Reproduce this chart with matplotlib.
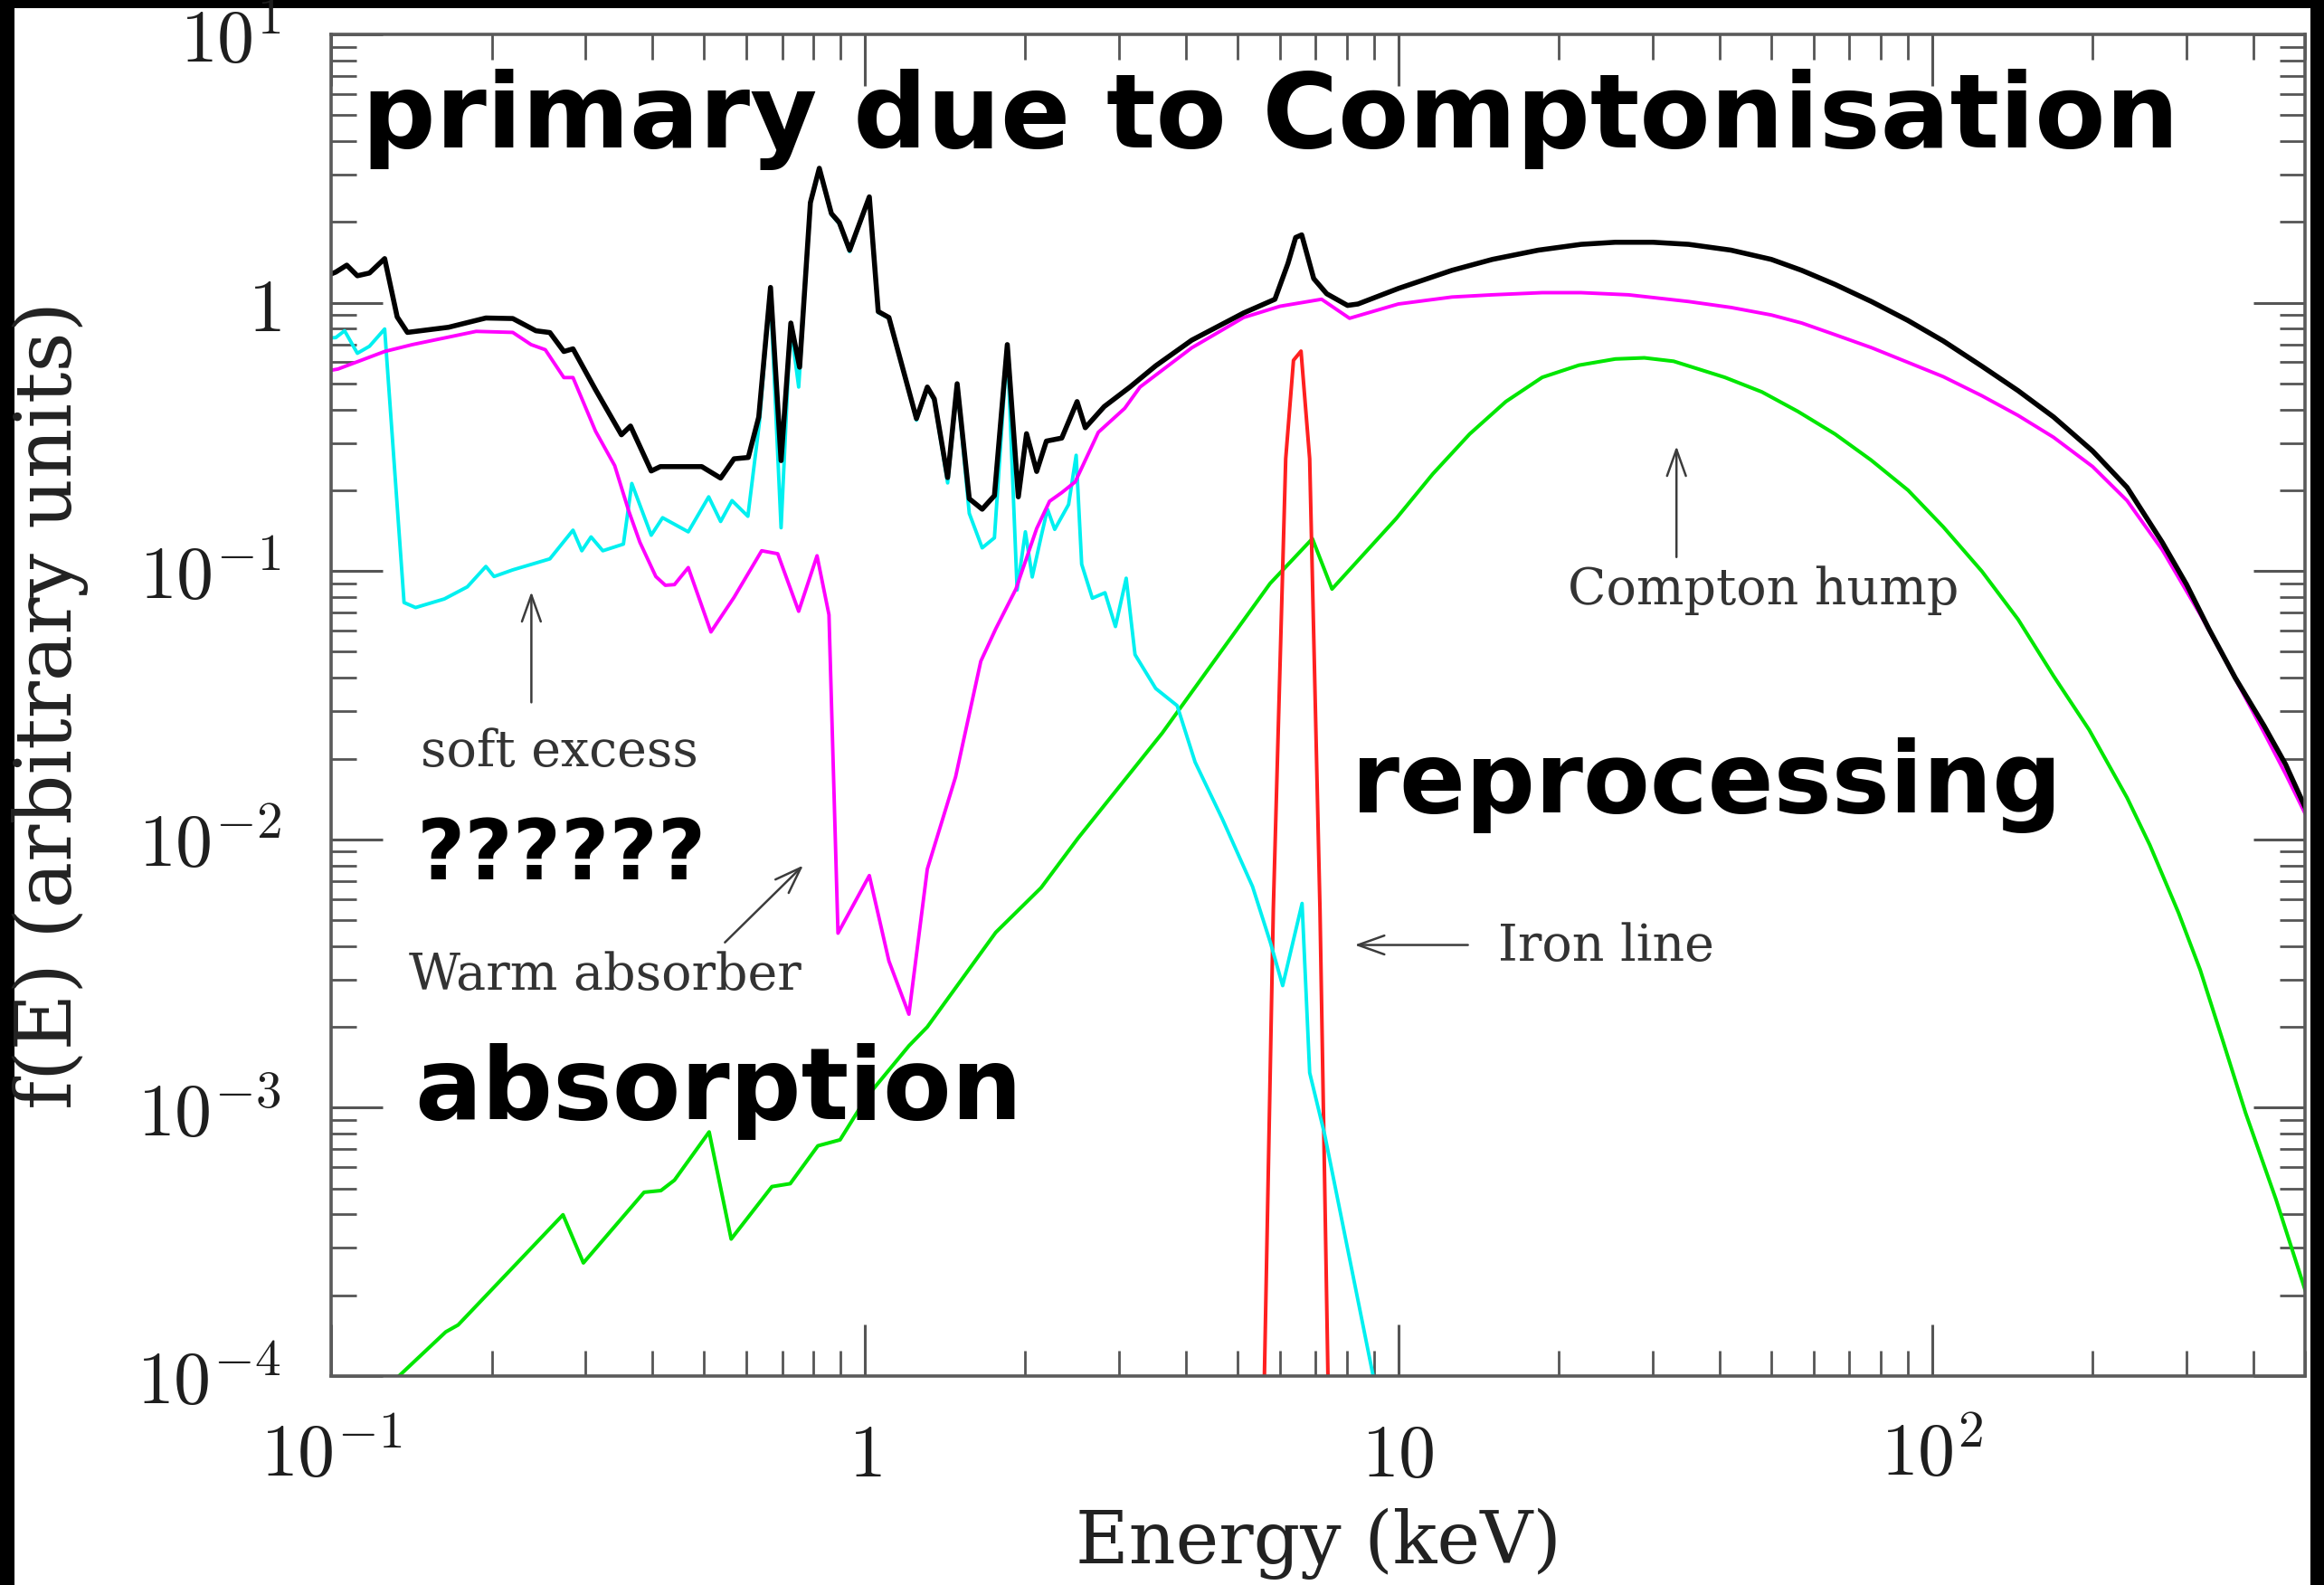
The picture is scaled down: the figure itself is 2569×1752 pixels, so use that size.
import matplotlib
matplotlib.use('Agg')
import matplotlib.pyplot as plt
from matplotlib.patches import Rectangle
from matplotlib.ticker import FixedLocator, LogLocator, NullFormatter

plt.rcParams['mathtext.fontset'] = 'cm'

# total spectrum (black)
total_e = [0.100, 0.102, 0.107, 0.112, 0.118, 0.126, 0.133, 0.139, 0.166, 0.195,
           0.219, 0.242, 0.257, 0.273, 0.284, 0.313, 0.350, 0.364, 0.398, 0.414,
           0.495, 0.537, 0.569, 0.605, 0.633, 0.666, 0.697, 0.727, 0.755, 0.791,
           0.822, 0.866, 0.896, 0.937, 1.02, 1.06, 1.11, 1.25, 1.31, 1.35,
           1.43, 1.49, 1.57, 1.66, 1.75, 1.85, 1.94, 2.01, 2.10, 2.19,
           2.34, 2.50, 2.59, 2.81, 3.14, 3.51, 4.10, 5.13, 5.87, 6.21,
           6.42, 6.59, 6.94, 7.34, 8.03, 8.40, 10.0, 12.6, 15.0, 18.3,
           22.0, 25.5, 30.0, 35.0, 42.0, 50.0, 57.0, 65.8, 77.0, 90.0,
           105.0, 124.0, 145.0, 169.0, 200.0, 232.0, 270.0, 300.0, 330.0, 370.0,
           419.0, 460.0, 500.0]
total_f = [1.28, 1.30, 1.38, 1.26, 1.29, 1.46, 0.885, 0.775, 0.81, 0.877,
           0.873, 0.786, 0.774, 0.658, 0.673, 0.474, 0.322, 0.347, 0.236, 0.245,
           0.245, 0.222, 0.262, 0.265, 0.375, 1.14, 0.258, 0.84, 0.575, 2.36,
           3.17, 2.15, 1.99, 1.57, 2.48, 0.927, 0.881, 0.370, 0.485, 0.438,
           0.223, 0.499, 0.186, 0.170, 0.191, 0.698, 0.189, 0.325, 0.235, 0.305,
           0.313, 0.428, 0.342, 0.410, 0.485, 0.582, 0.725, 0.916, 1.03, 1.40,
           1.75, 1.79, 1.23, 1.08, 0.977, 0.989, 1.13, 1.32, 1.45, 1.57,
           1.65, 1.68, 1.68, 1.65, 1.57, 1.45, 1.32, 1.17, 1.01, 0.86,
           0.72, 0.58, 0.47, 0.375, 0.28, 0.205, 0.128, 0.089, 0.061, 0.040,
           0.0265, 0.019, 0.0132]

# without soft excess (cyan)
cyan_e = [0.100, 0.102, 0.106, 0.112, 0.118, 0.126, 0.137, 0.144, 0.163, 0.180,
          0.195, 0.202, 0.219, 0.257, 0.284, 0.295, 0.307, 0.323, 0.353, 0.366,
          0.398, 0.418, 0.467, 0.510, 0.537, 0.564, 0.604, 0.635, 0.665, 0.697,
          0.726, 0.752, 0.791, 0.822, 0.866, 0.896, 0.937, 1.02, 1.06, 1.11,
          1.25, 1.31, 1.35, 1.43, 1.49, 1.57, 1.66, 1.75, 1.85, 1.93,
          2.00, 2.06, 2.14, 2.20, 2.27, 2.41, 2.49, 2.55, 2.67, 2.82,
          2.95, 3.09, 3.21, 3.51, 3.85, 4.16, 4.68, 5.33, 5.76, 6.07,
          6.60, 6.82, 7.28, 8.97, 9.40]
cyan_f = [0.74, 0.741, 0.786, 0.648, 0.688, 0.798, 0.0763, 0.0731, 0.0787, 0.0873,
          0.104, 0.0954, 0.101, 0.111, 0.142, 0.119, 0.134, 0.119, 0.126, 0.212,
          0.136, 0.158, 0.140, 0.189, 0.153, 0.183, 0.160, 0.36, 1.12, 0.145,
          0.83, 0.485, 2.34, 3.14, 2.13, 1.97, 1.55, 2.46, 0.92, 0.875,
          0.365, 0.48, 0.432, 0.213, 0.49, 0.164, 0.122, 0.133, 0.69, 0.085,
          0.14, 0.095, 0.134, 0.170, 0.143, 0.177, 0.27, 0.106, 0.0792, 0.0830,
          0.0621, 0.0940, 0.0488, 0.0365, 0.0315, 0.0194, 0.0119, 6.67e-3, 4.11e-3, 2.85e-3,
          5.77e-3, 1.35e-3, 7.9e-4, 1.0e-4, 6.0e-5]

# absorbed primary (magenta)
mag_e = [0.100, 0.103, 0.126, 0.142, 0.187, 0.219, 0.237, 0.252, 0.273, 0.284,
         0.313, 0.340, 0.361, 0.379, 0.406, 0.423, 0.440, 0.467, 0.515, 0.569,
         0.641, 0.687, 0.752, 0.814, 0.857, 0.891, 1.02, 1.11, 1.21, 1.31,
         1.48, 1.65, 1.76, 1.92, 2.10, 2.22, 2.34, 2.48, 2.74, 3.07,
         3.28, 4.10, 5.13, 6.00, 7.18, 8.10, 10.0, 12.6, 15.0, 18.6,
         22.0, 27.0, 35.0, 42.0, 50.0, 57.0, 65.8, 77.0, 90.0, 105.0,
         124.0, 145.0, 169.0, 200.0, 232.0, 270.0, 318.0, 360.0, 419.0, 460.0,
         500.0]
mag_f = [0.56, 0.566, 0.658, 0.698, 0.782, 0.775, 0.698, 0.668, 0.526, 0.526,
         0.332, 0.247, 0.168, 0.128, 0.0954, 0.0885, 0.089, 0.103, 0.0593, 0.0798,
         0.119, 0.116, 0.0708, 0.114, 0.0687, 0.00447, 0.00733, 0.00352, 0.00223, 0.00775,
         0.0171, 0.0461, 0.0609, 0.0857, 0.144, 0.182, 0.196, 0.215, 0.329, 0.404,
         0.485, 0.679, 0.881, 0.97, 1.03, 0.875, 0.989, 1.05, 1.07, 1.09,
         1.09, 1.07, 1.01, 0.96, 0.90, 0.84, 0.76, 0.68, 0.60, 0.53,
         0.45, 0.38, 0.315, 0.245, 0.183, 0.12, 0.069, 0.044, 0.025, 0.0175,
         0.0125]

# reflection (green)
green_e = [0.128, 0.134, 0.164, 0.173, 0.272, 0.297, 0.386, 0.415, 0.440, 0.511,
           0.562, 0.670, 0.725, 0.817, 0.899, 1.01, 1.21, 1.31, 1.76, 2.14,
           2.51, 3.61, 5.75, 6.90, 7.51, 9.91, 11.6, 13.6, 15.9, 18.6,
           21.8, 25.5, 28.9, 32.8, 40.9, 48.0, 56.1, 65.8, 76.9, 90.2,
           105.0, 124.0, 145.0, 169.0, 197.0, 232.0, 256.0, 290.0, 318.0, 350.0,
           387.0, 441.0, 500.0]
green_f = [8.9e-5, 1.0e-4, 1.46e-4, 1.55e-4, 3.99e-4, 2.64e-4, 4.84e-4, 4.91e-4, 5.37e-4, 8.12e-4,
           3.24e-4, 5.08e-4, 5.21e-4, 7.21e-4, 7.59e-4, 1.1e-3, 1.7e-3, 2.0e-3, 4.5e-3, 6.6e-3,
           1.01e-2, 2.49e-2, 8.99e-2, 0.132, 0.0857, 0.157, 0.230, 0.324, 0.428, 0.527,
           0.585, 0.617, 0.623, 0.605, 0.527, 0.465, 0.393, 0.324, 0.259, 0.200,
           0.146, 0.0998, 0.066, 0.0406, 0.0256, 0.0143, 9.52e-3, 5.3e-3, 3.27e-3, 1.8e-3,
           9.55e-4, 4.56e-4, 2.1e-4]

# iron line (red)
red_e = [5.48, 5.61, 5.83, 6.15, 6.36, 6.57, 6.82, 7.13, 7.38, 7.55]
red_f = [1e-5, 1e-4, 5.5e-3, 0.262, 0.61, 0.66, 0.262, 5.5e-3, 1e-4, 1e-5]

x_ticks = [0.1, 1, 10, 100]
x_tick_labels = [r'$10^{-1}$', r'$1$', r'$10$', r'$10^{2}$']
y_ticks = [1e-4, 1e-3, 1e-2, 1e-1, 1, 10]
y_tick_labels = [r'$10^{-4}$', r'$10^{-3}$', r'$10^{-2}$', r'$10^{-1}$', r'$1$', r'$10^{1}$']

W, H = 2569, 1752
fig = plt.figure(figsize=(W / 100, H / 100), dpi=100, facecolor='black')
fig.add_artist(Rectangle((16 / W, 0), (2554 - 16) / W, 1 - 9 / H,
                         transform=fig.transFigure, facecolor='white',
                         edgecolor='none', zorder=-10))

ax = fig.add_axes([366 / W, 1 - 1521 / H, (2548 - 366) / W, (1521 - 38) / H])

ax.plot(green_e, green_f, color='#00e600', lw=2.9)
ax.plot(red_e, red_f, color='#ff2020', lw=2.9)
ax.plot(cyan_e, cyan_f, color='#00f0f0', lw=2.8)
ax.plot(mag_e, mag_f, color='#ff00ff', lw=2.8)
ax.plot(total_e, total_f, color='black', lw=4.0)

ax.set_xscale('log')
ax.set_yscale('log')
ax.set_xlim(0.1, 500)
ax.set_ylim(1e-4, 10)

ax.xaxis.set_major_locator(FixedLocator(x_ticks))
ax.set_xticklabels(x_tick_labels)
ax.yaxis.set_major_locator(FixedLocator(y_ticks))
ax.set_yticklabels(y_tick_labels)
for axis in (ax.xaxis, ax.yaxis):
    axis.set_minor_locator(LogLocator(base=10, subs=range(2, 10), numticks=30))
    axis.set_minor_formatter(NullFormatter())

ax.tick_params(which='major', direction='in', length=41, width=2.2, color='#555555',
               top=True, right=True, labelsize=59, labelcolor='#1e1e1e')
ax.tick_params(which='minor', direction='in', length=20, width=2.0, color='#555555',
               top=True, right=True)
ax.tick_params(axis='x', pad=35)
ax.tick_params(axis='y', pad=40)
for s in ax.spines.values():
    s.set_color('#5a5a5a')
    s.set_linewidth(2.6)

ax.set_xlabel('Energy (keV)', family='DejaVu Serif', fontsize=58, color='#222222')
ax.xaxis.set_label_coords(0.5, -0.0985)
ax.set_ylabel('f(E) (arbitrary units)', family='DejaVu Serif', fontsize=62, color='#222222')
ax.yaxis.set_label_coords(-0.1228, 0.5)

# annotations with arrows
arrow_kw = dict(arrowstyle='->,head_length=0.7,head_width=0.25', color='#3c3c3c',
                lw=1.8, mutation_scale=30, shrinkA=0, shrinkB=0)
ax.annotate('', xy=(0.2373, 0.0837), xytext=(0.2373, 0.0324), arrowprops=arrow_kw)
ax.annotate('', xy=(0.767, 8.0e-3), xytext=(0.547, 4.13e-3), arrowprops=arrow_kw)
ax.annotate('', xy=(8.28, 4.04e-3), xytext=(13.5, 4.04e-3), arrowprops=arrow_kw)
ax.annotate('', xy=(33.2, 0.292), xytext=(33.2, 0.1127), arrowprops=arrow_kw)

label_kw = dict(family='DejaVu Serif', fontsize=40, color='#333333',
                transform=ax.transAxes, ha='center', va='baseline')
ax.text(0.1155, 0.4545, 'soft excess', **label_kw)
ax.text(0.1386, 0.288, 'Warm absorber', **label_kw)
ax.text(0.646, 0.3095, 'Iron line', **label_kw)
ax.text(0.7257, 0.5752, 'Compton hump', **label_kw)

# hand-written overlay notes, fitted to their width in the picture
notes = ['primary due to Comptonisation', 'reprocessing', 'absorption', '??????']
note_x = [0.0154, 0.517, 0.0422, 0.0434]
note_y = [0.9157, 0.420, 0.1917, 0.370]
note_w = [2008, 785, 672, 321]

renderer = fig.canvas.get_renderer()
for s, x, y, w in zip(notes, note_x, note_y, note_w):
    t = ax.text(x, y, s, transform=ax.transAxes, family='DejaVu Sans',
                fontweight='bold', fontsize=70, color='black',
                ha='left', va='baseline', zorder=10)
    cur = t.get_window_extent(renderer).width
    t.set_fontsize(70 * w / cur)

fig.savefig('out.png', dpi=100, facecolor='black')
